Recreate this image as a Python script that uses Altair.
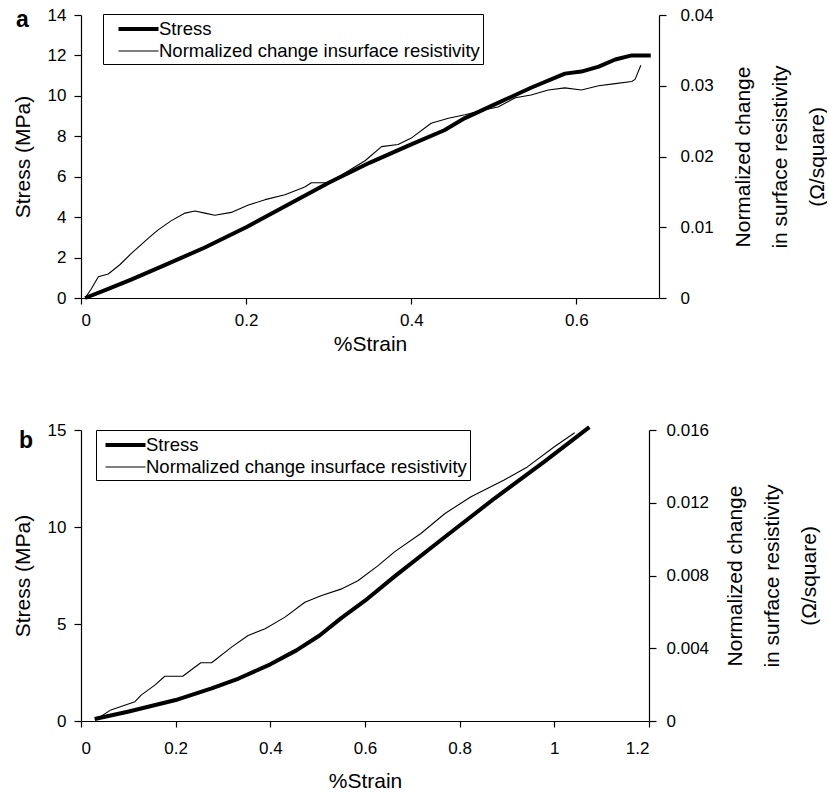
import altair as alt
import pandas as pd

FONT = "Liberation Sans"
STRESS_LABEL = "Stress"
RES_LABEL = "Normalized change insurface resistivity"
RIGHT_TITLE = ["Normalized change", "in surface resistivity", "(Ω/square)"]

# Panel a: stress and normalized resistivity change vs strain
a_stress_strain = [0.005, 0.03, 0.06, 0.1, 0.15, 0.2, 0.25, 0.3, 0.35, 0.4, 0.44,
                   0.465, 0.505, 0.545, 0.586, 0.606, 0.627, 0.647, 0.667, 0.69]
a_stress = [0.0, 0.4, 0.9, 1.6, 2.5, 3.5, 4.6, 5.7, 6.7, 7.6, 8.3,
            8.9, 9.65, 10.4, 11.1, 11.2, 11.45, 11.8, 12.0, 12.0]
a_res_strain = [0.005, 0.012, 0.021, 0.033, 0.047, 0.061, 0.081, 0.093, 0.109, 0.126,
                0.138, 0.150, 0.162, 0.182, 0.202, 0.223, 0.247, 0.271, 0.279, 0.299,
                0.320, 0.344, 0.364, 0.384, 0.400, 0.424, 0.445, 0.465, 0.489, 0.505,
                0.526, 0.545, 0.566, 0.586, 0.606, 0.627, 0.647, 0.667, 0.671, 0.678]
a_res = [0.0, 0.0012, 0.0030, 0.0034, 0.0047, 0.0063, 0.0084, 0.0096, 0.0109, 0.0120,
         0.0123, 0.0120, 0.0117, 0.0121, 0.0131, 0.0139, 0.0146, 0.0157, 0.0163, 0.0163,
         0.0177, 0.0194, 0.0214, 0.0217, 0.0226, 0.0247, 0.0254, 0.0259, 0.0266, 0.0270,
         0.0283, 0.0287, 0.0294, 0.0297, 0.0294, 0.0300, 0.0303, 0.0306, 0.0309, 0.0329]

# Panel b
b_stress_strain = [0.029, 0.036, 0.099, 0.2, 0.276, 0.333, 0.4, 0.455, 0.504, 0.549,
                   0.6, 0.662, 0.768, 0.874, 0.979, 1.074]
b_stress = [0.1, 0.14, 0.48, 1.08, 1.68, 2.19, 2.92, 3.64, 4.41, 5.29,
            6.2, 7.44, 9.47, 11.48, 13.37, 15.15]
b_res_strain = [0.029, 0.036, 0.063, 0.114, 0.127, 0.156, 0.177, 0.215, 0.253, 0.276,
                0.318, 0.353, 0.389, 0.431, 0.473, 0.507, 0.549, 0.585, 0.627, 0.663,
                0.718, 0.769, 0.824, 0.894, 0.943, 1.0, 1.043]
b_res = [0.00011, 0.00015, 0.00061, 0.00106, 0.00142, 0.00197, 0.00246, 0.00246, 0.0032, 0.0032,
         0.00406, 0.0047, 0.00507, 0.00571, 0.00653, 0.00689, 0.00725, 0.00771, 0.00853, 0.00931,
         0.01031, 0.01141, 0.01233, 0.01325, 0.01397, 0.01508, 0.01585]


def panel(letter, letter_dx, letter_dy, stress_x, stress_y, res_x, res_y, x_max, x_ticks,
          s_max, s_ticks, r_max, r_ticks, width, height, x_label_pad, x_title_pad,
          r_label_pad, r_title_x, legend_x, legend_y, sym_offset, lab_offset):
    stress_df = pd.DataFrame({"strain": stress_x, "value": stress_y, "series": STRESS_LABEL})
    res_df = pd.DataFrame({"strain": res_x, "value": res_y, "series": RES_LABEL})

    x_enc = alt.X(
        "strain:Q",
        scale=alt.Scale(domain=[0, x_max], nice=False),
        axis=alt.Axis(values=x_ticks, format="~g", title="%Strain", tickSize=6,
                      labelPadding=x_label_pad, titlePadding=x_title_pad),
    )
    width_enc = alt.StrokeWidth(
        "series:N",
        scale=alt.Scale(domain=[STRESS_LABEL, RES_LABEL], range=[4, 1.1]),
        legend=alt.Legend(
            title=None, orient="none", legendX=legend_x, legendY=legend_y,
            strokeColor="black", fillColor="white", padding=3,
            symbolType="M-2,0H2", symbolSize=400, symbolStrokeColor="black",
            symbolOffset=sym_offset, labelOffset=lab_offset,
            labelFont=FONT, labelFontSize=18.5, labelColor="black", labelLimit=500,
            rowPadding=1,
        ),
    )

    stress = alt.Chart(stress_df).mark_line(color="black", strokeJoin="round").encode(
        x=x_enc,
        y=alt.Y("value:Q", scale=alt.Scale(domain=[0, s_max], nice=False),
                axis=alt.Axis(values=s_ticks, title="Stress (MPa)", tickSize=7,
                              labelPadding=8, titlePadding=14)),
        strokeWidth=width_enc,
    )
    res = alt.Chart(res_df).mark_line(color="black", strokeJoin="round").encode(
        x=x_enc,
        y=alt.Y("value:Q", scale=alt.Scale(domain=[0, r_max], nice=False),
                axis=alt.Axis(orient="right", values=r_ticks, format="~g",
                              title=RIGHT_TITLE, titleAngle=270, titleBaseline="middle",
                              titleAlign="center", titleLineHeight=37,
                              titleX=r_title_x, titleY=height / 2, tickSize=7,
                              labelPadding=r_label_pad)),
        strokeWidth=width_enc,
    )
    # panel letter in the upper-left corner
    tag = alt.Chart(pd.DataFrame({"tag": [letter]})).mark_text(
        font=FONT, fontSize=23, fontWeight="bold", color="black",
        align="left", baseline="alphabetic", dx=letter_dx, dy=letter_dy,
    ).encode(text="tag:N", x=alt.value(0), y=alt.value(0))

    return (
        alt.layer(stress, res, tag)
        .resolve_scale(y="independent")
        .properties(width=width, height=height)
    )


panel_a = panel("a", -65, 12, a_stress_strain, a_stress, a_res_strain, a_res,
                0.7, [0, 0.2, 0.4, 0.6], 14, [0, 2, 4, 6, 8, 10, 12, 14],
                0.04, [0, 0.01, 0.02, 0.03, 0.04], 578, 283, 8, 5, 14, 84,
                22, -1, 20.5, 8.5)
panel_b = panel("b", -62, 18, b_stress_strain, b_stress, b_res_strain, b_res,
                1.2, [0, 0.2, 0.4, 0.6, 0.8, 1, 1.2], 15, [0, 5, 10, 15],
                0.016, [0, 0.004, 0.008, 0.012, 0.016], 568, 291, 13, 14, 10, 86,
                15, 0, 14.5, 8.5)

chart = (
    alt.vconcat(panel_a, panel_b, spacing=67)
    .resolve_scale(strokeWidth="independent")
    .resolve_legend(strokeWidth="independent")
    .properties(padding={"left": 12, "top": 6, "right": 0, "bottom": 0}, background="white")
    .configure_view(strokeWidth=0)
    .configure_axis(
        labelFont=FONT, titleFont=FONT, labelFontSize=17, titleFontSize=21,
        titleFontWeight="normal", labelColor="black", titleColor="black",
        domainColor="black", tickColor="black", domainWidth=1.2, tickWidth=1.2,
        grid=False,
    )
)

chart.save("out.html", embed_options={"renderer": "svg", "actions": False})
